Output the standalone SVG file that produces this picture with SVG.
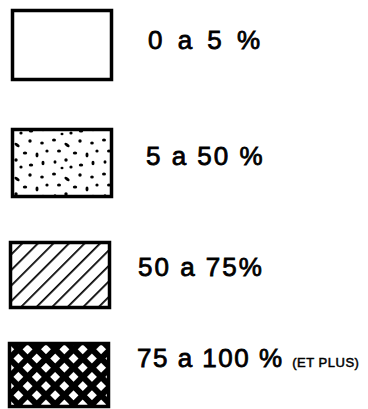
<svg xmlns="http://www.w3.org/2000/svg" width="368" height="409" viewBox="0 0 368 409">
<style>
.box{stroke:#000;stroke-width:3.5;}
.lbl{font-family:"Liberation Sans",Arial,sans-serif;font-size:26px;fill:#000;stroke:#000;stroke-width:0.8;}
.sm{font-size:13px;stroke-width:0.5;}
</style>
<defs>
<pattern id="hatch" patternUnits="userSpaceOnUse" width="11" height="11" patternTransform="rotate(45)">
<line x1="0" y1="0" x2="0" y2="11" stroke="#000" stroke-width="3.5"/>
</pattern>
<pattern id="cross" patternUnits="userSpaceOnUse" width="13" height="13" patternTransform="rotate(45)">
<rect width="13" height="13" fill="#000"/>
<rect x="3" y="3" width="7" height="7" fill="#fff"/>
</pattern>
<pattern id="dots" patternUnits="userSpaceOnUse" width="50" height="34">
<g fill="#000">
<ellipse cx="4" cy="4" rx="2" ry="1.5"/><ellipse cx="17" cy="9" rx="3" ry="1.5" transform="rotate(35 17 9)"/>
<ellipse cx="30" cy="5" rx="1.7" ry="1.7"/><ellipse cx="42" cy="7" rx="1.8" ry="1.5"/>
<ellipse cx="9" cy="15" rx="2" ry="1.5"/><ellipse cx="25" cy="17" rx="2.2" ry="1.5"/>
<ellipse cx="37" cy="19" rx="1.5" ry="2.4"/><ellipse cx="47" cy="15" rx="1.6" ry="1.6"/>
<ellipse cx="5" cy="26" rx="1.5" ry="1.8"/><ellipse cx="16" cy="24" rx="1.7" ry="1.7"/>
<ellipse cx="31" cy="29" rx="2.2" ry="1.5"/><ellipse cx="43" cy="27" rx="1.5" ry="2.2"/>
<ellipse cx="21" cy="31" rx="1.6" ry="1.6"/><ellipse cx="12" cy="32" rx="1.5" ry="1.3"/>
</g>
</pattern>
</defs>
<g id="n1">
<rect class="box" x="12.5" y="10.5" width="99" height="69" fill="#fff"/>
<text class="lbl" x="148" y="49" style="letter-spacing:4px">0 a 5 %</text>
</g>
<g id="n2">
<rect class="box" x="12.5" y="129.5" width="99" height="67" fill="url(#dots)"/>
<text class="lbl" x="146" y="165" style="letter-spacing:2px">5 a 50 %</text>
</g>
<g id="n3">
<rect class="box" x="10.5" y="242.5" width="99" height="65" fill="url(#hatch)"/>
<text class="lbl" x="138" y="276" style="letter-spacing:2px">50 a 75%</text>
</g>
<g id="n4">
<rect class="box" x="9.5" y="343.5" width="99" height="63" fill="url(#cross)"/>
<text class="lbl" x="137" y="367" style="letter-spacing:1.5px">75 a 100 % <tspan class="sm" style="letter-spacing:0.5px">(ET PLUS)</tspan></text>
</g>
</svg>
